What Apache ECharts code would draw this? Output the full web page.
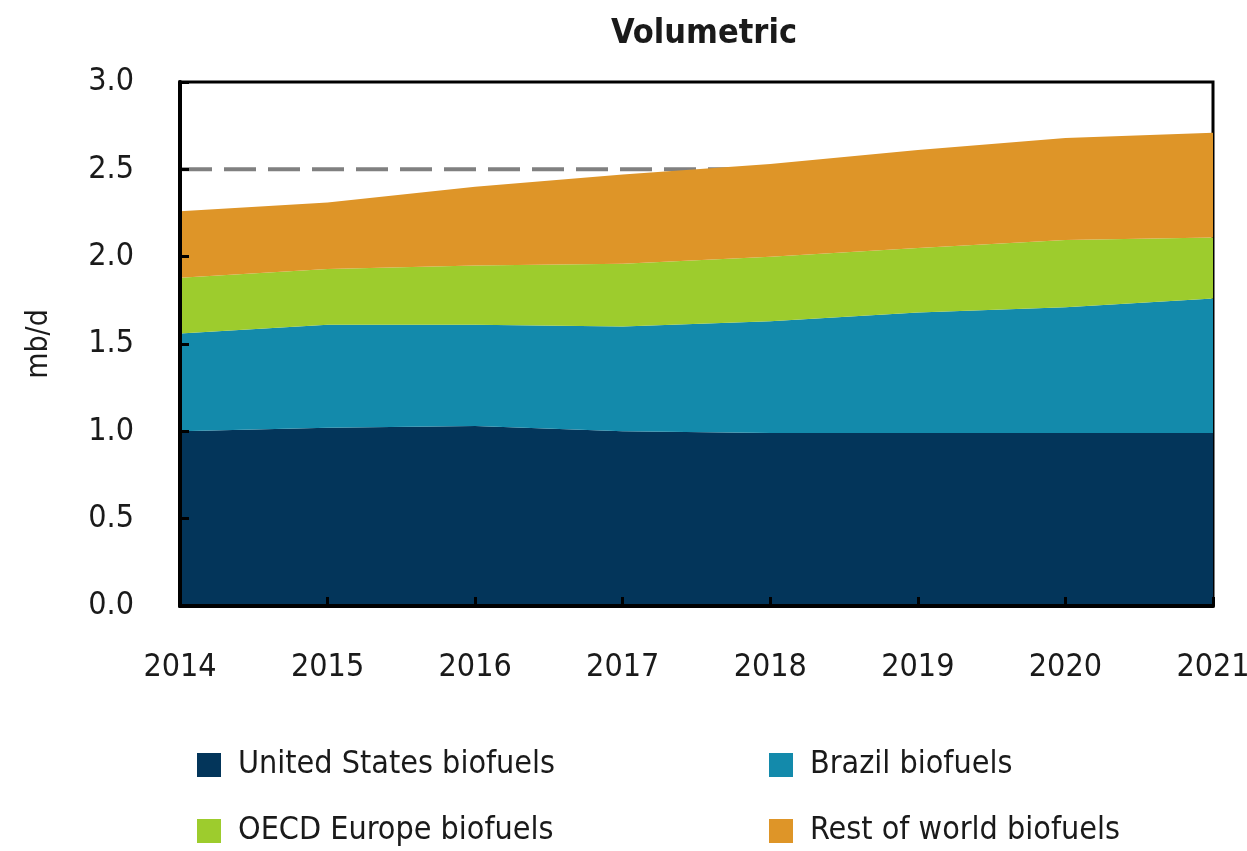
<!DOCTYPE html>
<html>
<head>
<meta charset="utf-8">
<script src="https://cdn.jsdelivr.net/npm/echarts@6/dist/echarts.min.js"></script>
<style>
  html, body { margin: 0; padding: 0; background: #fff; }
  #chart { width: 1247px; height: 851px; }
</style>
</head>
<body>
<div id="chart"></div>
<script>
  // Data (mb/d, stacked)
  var years = ['2014', '2015', '2016', '2017', '2018', '2019', '2020', '2021'];
  var unitedStates = [1.00, 1.02, 1.03, 1.00, 0.99, 0.99, 0.99, 0.99];
  var brazil = [0.56, 0.59, 0.58, 0.60, 0.64, 0.69, 0.72, 0.77];
  var oecdEurope = [0.32, 0.32, 0.34, 0.36, 0.37, 0.37, 0.385, 0.35];
  var restOfWorld = [0.38, 0.38, 0.45, 0.51, 0.53, 0.56, 0.585, 0.60];
  var referenceLevel = 2.5;

  var font = '"Liberation Sans Narrow", "DejaVu Sans Condensed", sans-serif';
  var textColor = '#1a1a1a';

  var dom = document.getElementById('chart');
  var chart = echarts.init(dom, null, {renderer: 'canvas'});

  function areaSeries(name, data, color) {
    return {
      name: name,
      type: 'line',
      stack: 'total',
      data: data,
      symbol: 'none',
      z: 3,
      lineStyle: {width: 0},
      itemStyle: {color: color},
      areaStyle: {color: color, opacity: 1}
    };
  }

  // one legend per item so the 2x2 layout is exact
  function legendItem(name, left, top) {
    return {
      left: left, top: top,
      itemWidth: 24, itemHeight: 24, icon: 'rect',
      data: [name],
      textStyle: {fontFamily: font, fontSize: 32, color: textColor, padding: [0, 0, 0, 12]}
    };
  }

  var option = {
    animation: false,
    title: {
      text: 'Volumetric',
      left: 699,
      top: 12,
      textAlign: 'center',
      textStyle: {fontFamily: font, fontSize: 34, fontWeight: 'bold', color: textColor}
    },
    grid: {
      left: 180, right: 34, top: 82, bottom: 245,
      outerBoundsMode: 'none',
      containLabel: false,
      show: true, borderColor: '#000', borderWidth: 3, backgroundColor: 'transparent'
    },
    legend: [
      legendItem('United States biofuels', 192, 744),
      legendItem('Brazil biofuels', 764, 744),
      legendItem('OECD Europe biofuels', 192, 810),
      legendItem('Rest of world biofuels', 764, 810)
    ],
    xAxis: {
      type: 'category',
      data: years,
      boundaryGap: false,
      axisLine: {lineStyle: {color: '#000', width: 4}},
      axisTick: {inside: true, length: 9, lineStyle: {color: '#000', width: 3}},
      axisLabel: {fontFamily: font, fontSize: 32, color: textColor, margin: 46},
      splitLine: {show: false},
      z: 10
    },
    yAxis: {
      type: 'value',
      min: 0, max: 3, interval: 0.5,
      name: 'mb/d',
      nameLocation: 'middle',
      nameRotate: 90,
      nameGap: 126,
      nameTextStyle: {fontFamily: font, fontSize: 30, color: textColor},
      axisLine: {show: true, lineStyle: {color: '#000', width: 4}},
      axisTick: {show: true, inside: true, length: 9, lineStyle: {color: '#000', width: 3}},
      axisLabel: {
        fontFamily: font, fontSize: 32, color: textColor, margin: 46,
        formatter: function (v) { return v.toFixed(1); }
      },
      splitLine: {show: false},
      z: 10
    },
    series: [
      {
        // dashed reference line, drawn behind the areas
        name: 'reference',
        type: 'line',
        data: years.map(function () { return referenceLevel; }),
        symbol: 'none',
        silent: true,
        z: 1,
        lineStyle: {color: '#808080', type: [32, 12], width: 4}
      },
      areaSeries('United States biofuels', unitedStates, '#03355a'),
      areaSeries('Brazil biofuels', brazil, '#138aab'),
      areaSeries('OECD Europe biofuels', oecdEurope, '#9dcc2d'),
      areaSeries('Rest of world biofuels', restOfWorld, '#de9528')
    ]
  };

  chart.setOption(option);
</script>
</body>
</html>
